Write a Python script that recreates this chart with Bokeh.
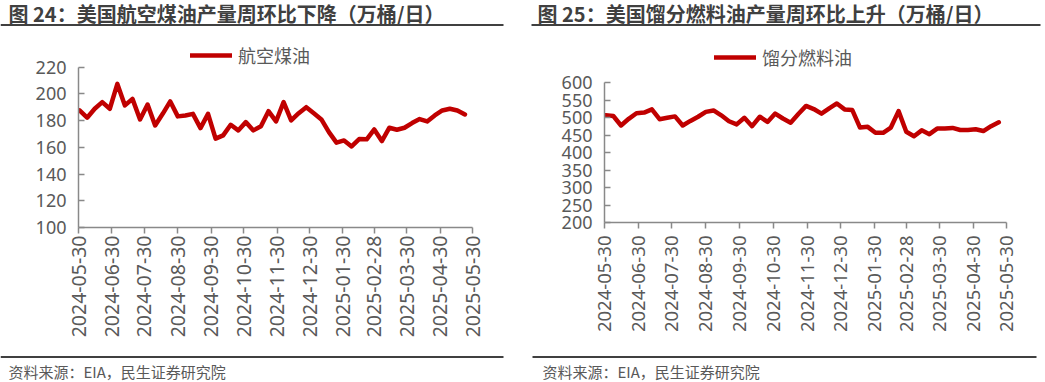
import math
import pandas as pd
from bokeh.plotting import figure
from bokeh.layouts import column, row
from bokeh.models import (Range1d, FixedTicker, DatetimeTickFormatter, Legend,
                          LegendItem, ColumnDataSource)
from bokeh.embed import file_html
from bokeh.resources import INLINE
from bokeh.core.properties import value

# ---------------- data ----------------
week_start = "2024-05-31"
n_weeks = 52
dates = pd.date_range(week_start, periods=n_weeks, freq="7D")

jet_fuel = [187.6, 182.2, 188.9, 193.9, 188.9, 207.5, 191.4, 196.3, 180.9, 192.1,
            176.4, 185.1, 194.4, 183.2, 183.9, 185.1, 174.4, 185.1, 166.5, 169.0,
            176.9, 172.7, 178.9, 172.7, 175.8, 187.1, 179.4, 193.9, 180.2, 185.6,
            190.1, 185.6, 180.9, 171.4, 163.5, 165.2, 160.7, 166.2, 166.0, 173.4,
            164.7, 174.7, 173.2, 174.7, 178.2, 181.2, 179.4, 183.9, 187.6, 188.9,
            187.6, 184.6]

distillate = [507, 505, 478, 497, 513, 515, 524, 496, 500, 504,
              478, 491, 503, 517, 521, 507, 490, 481, 500, 476,
              503, 488, 512, 498, 486, 511, 534, 525, 512, 527,
              541, 524, 522, 472, 474, 457, 457, 472, 519, 460,
              447, 464, 453, 469, 469, 471, 465, 465, 467, 462,
              476, 487]

tick_labels = ["2024-05-30", "2024-06-30", "2024-07-30", "2024-08-30", "2024-09-30",
               "2024-10-30", "2024-11-30", "2024-12-30", "2025-01-30", "2025-02-28",
               "2025-03-30", "2025-04-30", "2025-05-30"]

jet_yticks = [100, 120, 140, 160, 180, 200, 220]
dist_yticks = [200, 250, 300, 350, 400, 450, 500, 550, 600]

titles = ["图 24：美国航空煤油产量周环比下降（万桶/日）",
          "图 25：美国馏分燃料油产量周环比上升（万桶/日）"]
legend_labels = ["航空煤油", "馏分燃料油"]
source_text = "资料来源：EIA，民生证券研究院"

# ---------------- style ----------------
RED = "#C00000"
AXIS = "#898989"
LABEL = "#595959"
TITLE = "#404040"
CJK = "Noto Sans CJK SC"
NUM = "Noto Sans"

tick_ms = [pd.Timestamp(t).value // 10**6 for t in tick_labels]
fmt = "%Y-%m-%d"


def chart(values, yticks, y_hi, label, width, mb_left, mb_right, mb_bottom,
          leg_loc, xlabel_size, x_standoff):
    src = ColumnDataSource(dict(date=dates, v=values))
    p = figure(width=width, height=324, x_axis_type="datetime",
               x_range=Range1d(tick_ms[0], tick_ms[-1]),
               y_range=Range1d(yticks[0], y_hi),
               toolbar_location=None, output_backend="svg", title=None,
               min_border_left=mb_left, min_border_right=mb_right,
               min_border_top=12, min_border_bottom=mb_bottom,
               outline_line_color=None, background_fill_color="white",
               border_fill_color="white")
    p.grid.visible = False
    r = p.line(x="date", y="v", source=src, line_color=RED, line_width=4.5,
               line_join="round", line_cap="round")

    xa = p.xaxis[0]
    xa.ticker = FixedTicker(ticks=tick_ms)
    xa.formatter = DatetimeTickFormatter(
        milliseconds=fmt, seconds=fmt, minsec=fmt, minutes=fmt, hourmin=fmt,
        hours=fmt, days=fmt, months=fmt, years=fmt)
    xa.major_label_orientation = math.pi / 2
    xa.major_tick_in = 0
    xa.major_tick_out = 6
    xa.major_label_standoff = x_standoff
    xa.major_label_text_font_size = xlabel_size

    ya = p.yaxis[0]
    ya.ticker = FixedTicker(ticks=yticks)
    ya.bounds = (yticks[0], yticks[-1])
    ya.major_tick_in = 6
    ya.major_tick_out = 0
    ya.major_label_standoff = 12
    ya.major_label_text_font_size = "18px"

    for ax in (xa, ya):
        ax.axis_line_color = AXIS
        ax.axis_line_width = 1.5
        ax.major_tick_line_color = AXIS
        ax.major_tick_line_width = 1.5
        ax.minor_tick_line_color = None
        ax.major_label_text_font = NUM
        ax.major_label_text_color = LABEL

    leg = Legend(items=[LegendItem(label=label, renderers=[r])], location=leg_loc,
                 border_line_color=None, background_fill_alpha=0,
                 label_text_font=CJK, label_text_font_size="18px",
                 label_text_color=LABEL, glyph_width=42, glyph_height=20,
                 label_height=20, label_standoff=6, padding=0, margin=0, spacing=0)
    p.add_layout(leg)
    return p


left = chart(jet_fuel, jet_yticks, 240.0, legend_labels[0], 525, 78, 53, 125,
             (112, 159), "19.5px", 2)
right = chart(distillate, dist_yticks, 721.4, legend_labels[1], 520, 79, 39, 130,
              (110, 152), "18.5px", 7)


def band(height, y0, y1):
    f = figure(width=1045, height=height, x_range=Range1d(0, 1045),
               y_range=Range1d(y1, y0), x_axis_type=None, y_axis_type=None,
               toolbar_location=None, output_backend="svg", title=None,
               min_border=0, outline_line_color=None, border_fill_color="white",
               background_fill_color="white")
    f.grid.visible = False
    return f


header = band(28, 0, 28)
header.text(x=[8, 537], y=[13, 13], text=titles, text_font=value(CJK),
            text_font_style="bold", text_font_size="20px", text_color=TITLE,
            text_baseline="middle", text_align="left")
header.segment(x0=[0, 531], x1=[503, 1040], y0=[24.5, 24.5], y1=[24.5, 24.5],
               line_color=TITLE, line_width=2)

footer = band(30, 352, 382)
footer.segment(x0=[0, 532], x1=[503, 1036], y0=[356.5, 356.5], y1=[356.5, 356.5],
               line_color=TITLE, line_width=2)
footer.text(x=[8, 542], y=[371, 371], text=[source_text, source_text],
            text_font=value(CJK), text_font_size="15px", text_color=LABEL,
            text_baseline="middle", text_align="left")

layout = column(header, row(column(left), column(right)), footer)
open("out.html", "w").write(file_html(layout, INLINE))
